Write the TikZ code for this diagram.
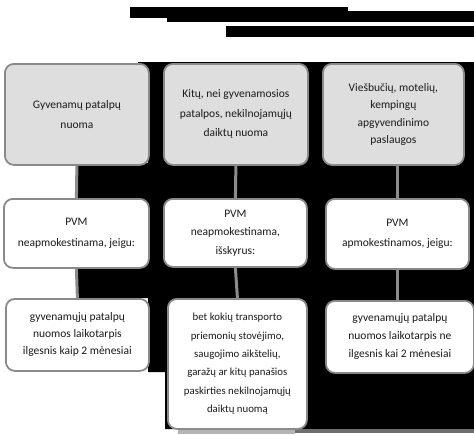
\documentclass[tikz,border=0pt]{standalone}
\usepackage{fontspec}
\setmainfont{Carlito}
\definecolor{boxgray}{HTML}{DEDEDE}
\definecolor{bordergray}{HTML}{8A8A8A}
\definecolor{linkgray}{HTML}{8C8C8C}
\definecolor{textcol}{HTML}{1A1A1A}
\definecolor{shadelight}{HTML}{B4B4B4}
\definecolor{shadedark}{HTML}{6E6E6E}
\begin{document}
\begin{tikzpicture}[x=1pt,y=-1pt,
  box/.style={draw=bordergray, line width=1.8pt, rounded corners=9pt, anchor=north west,
    align=center, inner sep=0pt, text=textcol},
  topbox/.style={box, fill=boxgray},
  lowbox/.style={box, fill=white},
  fs/.style={font=\fontsize{11.5}{#1}\selectfont},
  link/.style={draw=linkgray, line width=3pt},
  dark/.style={fill=black, draw=none}]
\useasboundingbox (0,0) rectangle (474,434);
% title bars
\path[dark] (130,7) rectangle (348,18);
\path[dark] (167,11) rectangle (474,22);
\path[dark] (226,26) rectangle (474,37);
% dark background region
\path[dark] (148,62) -- (474,62) -- (474,429) -- (165,429) -- (165,372) -- (148,372)
  -- (148,298) -- (78,298) -- (78,163) -- (148,163) -- (148,74) -- (138,74) -- (138,62) -- cycle;
\path[fill=shadelight] (178,429) rectangle (295,434);
\path[fill=shadedark] (295,429) rectangle (474,433);
% boxes
\node[topbox, fs=20, minimum width=144pt, minimum height=101pt] (a1) at (4,63)
  {Gyvenamų patalpų\\nuoma};
\node[topbox, fs=19.5, minimum width=144pt, minimum height=101pt] (b1) at (163,63)
  {Kitų, nei gyvenamosios\\patalpos, nekilnojamųjų\\daiktų nuoma};
\node[topbox, fs=17.5, minimum width=141pt, minimum height=101pt] (c1) at (322,63)
  {Viešbučių, motelių,\\kempingų\\apgyvendinimo\\paslaugos};
\node[lowbox, fs=21, minimum width=145pt, minimum height=69pt] (a2) at (3,198)
  {PVM\\neapmokestinama, jeigu:};
\node[lowbox, fs=18.5, minimum width=143pt, minimum height=68pt] (b2) at (163,198)
  {PVM\\neapmokestinama,\\išskyrus:};
\node[lowbox, fs=20, minimum width=143pt, minimum height=70pt] (c2) at (325,198)
  {PVM\\apmokestinamos, jeigu:};
\node[lowbox, fs=17, minimum width=143pt, minimum height=72pt] (a3) at (5,298)
  {gyvenamųjų patalpų\\nuomos laikotarpis\\ilgesnis kaip 2 mėnesiai};
\node[lowbox, font=\fontsize{10.8}{18.4}\selectfont, minimum width=139pt, minimum height=130pt] (b3) at (167,298)
  {bet kokių transporto\\priemonių stovėjimo,\\saugojimo aikštelių,\\garažų ar kitų panašios\\paskirties nekilnojamųjų\\daiktų nuomą};
\node[lowbox, fs=18, minimum width=148pt, minimum height=72pt] (c3) at (325,300)
  {gyvenamųjų patalpų\\nuomos laikotarpis ne\\ilgesnis kai 2 mėnesiai};
% connectors
\draw[link] (a1.south) -- (a2.north);
\draw[link] (a2.south) -- (a3.north);
\draw[link] (b1.south) -- (b2.north);
\draw[link] (b2.south) -- (b3.north);
\draw[link] (c2.north |- c1.south) -- (c2.north);
\draw[link] (c2.south) -- (c2.south |- c3.north);
\end{tikzpicture}
\end{document}
